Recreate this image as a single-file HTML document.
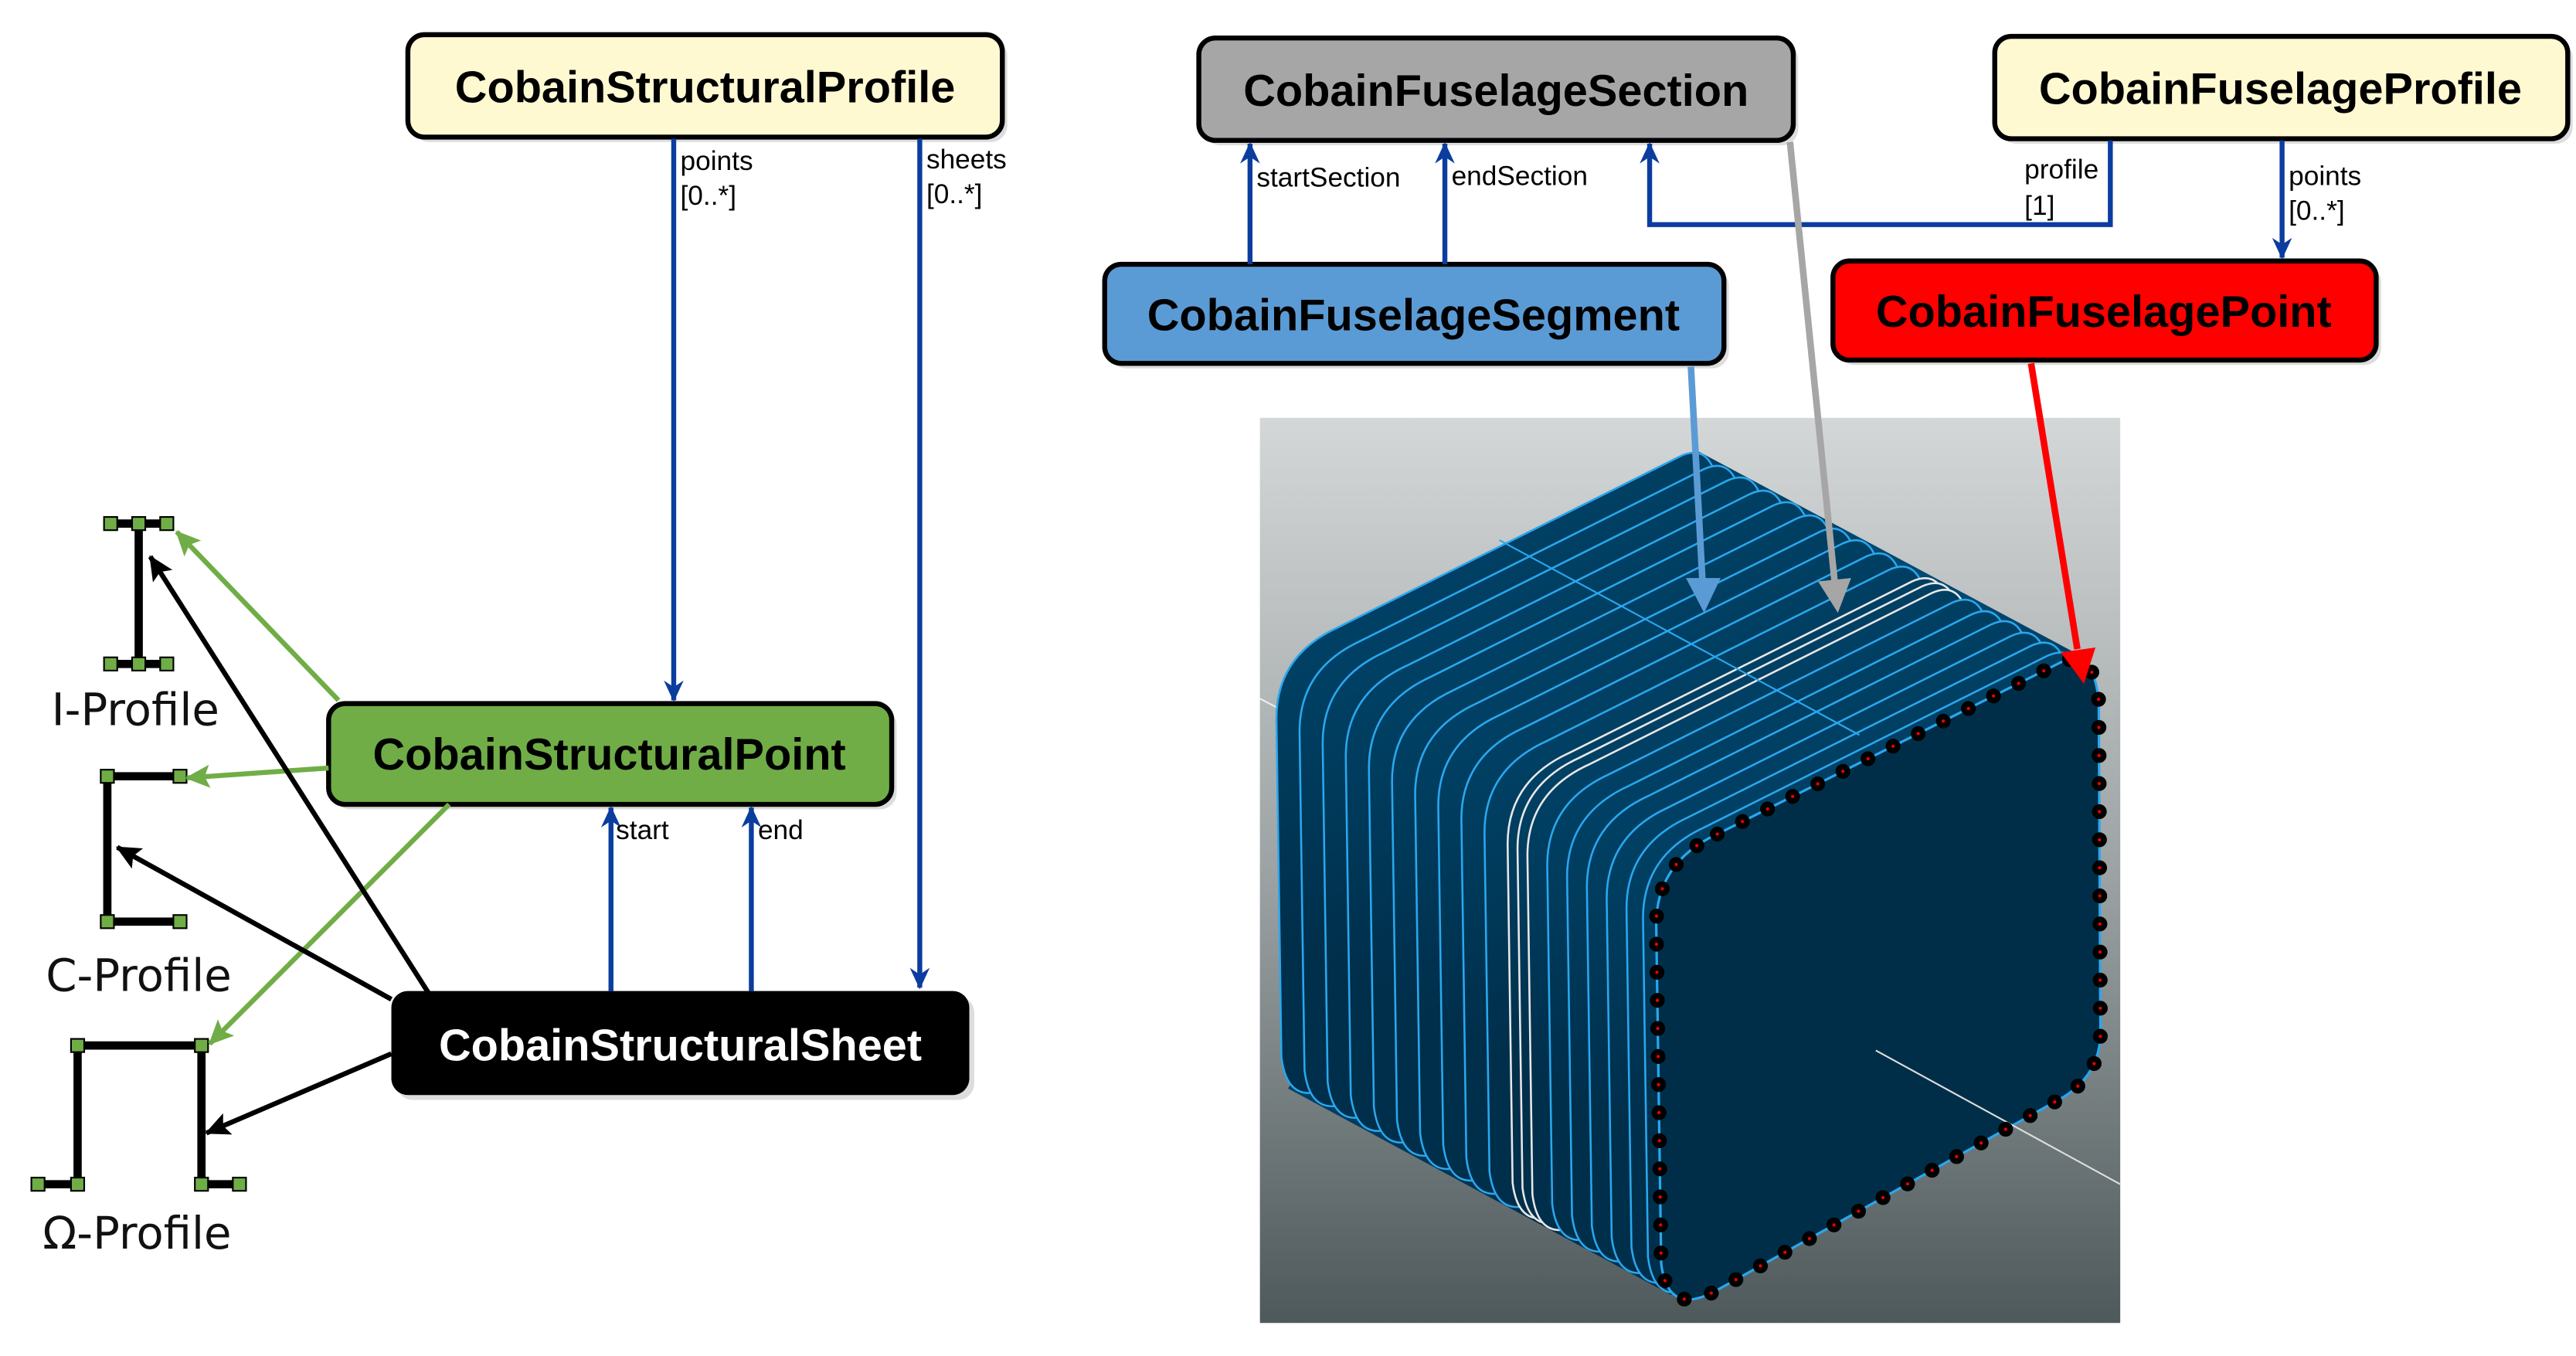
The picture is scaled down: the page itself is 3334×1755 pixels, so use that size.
<!DOCTYPE html>
<html><head><meta charset="utf-8"><style>
html,body{margin:0;padding:0;background:#fff;}
svg{display:block;}
</style></head><body>
<svg width="3334" height="1755" viewBox="0 0 1560 821" preserveAspectRatio="none" xmlns="http://www.w3.org/2000/svg">
<defs>
<marker id="mb" markerUnits="userSpaceOnUse" markerWidth="14" markerHeight="12" refX="12" refY="6" orient="auto"><path d="M0,0 L13,6 L0,12 L4,6 z" fill="#0b3d9e"/></marker>
<marker id="mg" markerUnits="userSpaceOnUse" markerWidth="16" markerHeight="14" refX="14" refY="7" orient="auto"><path d="M0,0 L15,7 L0,14 L3,7 z" fill="#70ad47"/></marker>
<marker id="mk" markerUnits="userSpaceOnUse" markerWidth="16" markerHeight="14" refX="14" refY="7" orient="auto"><path d="M0,0 L15,7 L0,14 L3,7 z" fill="#000"/></marker>
<linearGradient id="bg" x1="0" y1="0" x2="0" y2="1"><stop offset="0" stop-color="#d4d7d8"/><stop offset="0.5" stop-color="#9da3a4"/><stop offset="1" stop-color="#4e595b"/></linearGradient>
<linearGradient id="sf" gradientUnits="userSpaceOnUse" x1="780" y1="300" x2="1000" y2="700"><stop offset="0" stop-color="#003758"/><stop offset="0.5" stop-color="#014a72"/><stop offset="1" stop-color="#002f4b"/></linearGradient>
<path id="fo" d="M1040,505 L1248,401 Q1268,392 1271,425 L1272,625 Q1272,650 1250,664 L1040,781 Q1010,798 1006,765 L1003,560 Q1003,522 1040,505 Z"/>
</defs>
<g font-family="Liberation Sans, Arial, sans-serif">
<!-- Left boxes -->
<rect x="250" y="24" width="360" height="62" rx="10" fill="#ddd"/>
<rect x="247" y="21" width="360" height="62" rx="10" fill="#fff9d2" stroke="#000" stroke-width="3"/>
<text x="427" y="62" font-size="27" font-weight="bold" text-anchor="middle">CobainStructuralProfile</text>

<rect x="202" y="429" width="341" height="61" rx="10" fill="#ddd"/>
<rect x="199" y="426" width="341" height="61" rx="10" fill="#70ad47" stroke="#000" stroke-width="3"/>
<text x="369" y="466" font-size="27" font-weight="bold" text-anchor="middle">CobainStructuralPoint</text>

<rect x="240" y="603" width="350" height="63" rx="10" fill="#ddd"/>
<rect x="237" y="600" width="350" height="63" rx="10" fill="#000"/>
<text x="412" y="642" font-size="27" font-weight="bold" text-anchor="middle" fill="#fff">CobainStructuralSheet</text>

<g stroke="#0b3d9e" stroke-width="3" fill="none">
<line x1="408" y1="84" x2="408" y2="424" marker-end="url(#mb)"/>
<line x1="557" y1="84" x2="557" y2="598" marker-end="url(#mb)"/>
<line x1="370" y1="600" x2="370" y2="489" marker-end="url(#mb)"/>
<line x1="455" y1="600" x2="455" y2="489" marker-end="url(#mb)"/>
</g>
<g font-size="16.5">
<text x="412" y="103">points</text><text x="412" y="124">[0..*]</text>
<text x="561" y="102">sheets</text><text x="561" y="123">[0..*]</text>
<text x="373" y="508">start</text><text x="459" y="508">end</text>
</g>

<g stroke="#000" stroke-width="5" fill="none">
<path d="M67,317 H101 M84,317 V402 M67,402 H101"/>
<path d="M109,470 H65 V558 H109"/>
<path d="M23,717 H47 V633 H122 V717 H145"/>
</g>
<g fill="#70ad47" stroke="#000" stroke-width="1">
<rect x="63" y="313" width="8" height="8"/><rect x="80" y="313" width="8" height="8"/><rect x="97" y="313" width="8" height="8"/>
<rect x="63" y="398" width="8" height="8"/><rect x="80" y="398" width="8" height="8"/><rect x="97" y="398" width="8" height="8"/>
<rect x="61" y="466" width="8" height="8"/><rect x="105" y="466" width="8" height="8"/>
<rect x="61" y="554" width="8" height="8"/><rect x="105" y="554" width="8" height="8"/>
<rect x="43" y="629" width="8" height="8"/><rect x="118" y="629" width="8" height="8"/>
<rect x="19" y="713" width="8" height="8"/><rect x="43" y="713" width="8" height="8"/>
<rect x="118" y="713" width="8" height="8"/><rect x="141" y="713" width="8" height="8"/>
</g>
<g font-family="DejaVu Sans, sans-serif" font-size="27" text-anchor="middle" fill="#111">
<text x="82" y="439">I-Profile</text>
<text x="84" y="600">C-Profile</text>
<text x="83" y="756">Ω-Profile</text>
</g>
<g stroke="#70ad47" stroke-width="3" fill="none">
<line x1="205" y1="424" x2="107" y2="322" marker-end="url(#mg)"/>
<line x1="199" y1="465" x2="113" y2="471" marker-end="url(#mg)"/>
<line x1="272" y1="487" x2="127" y2="632" marker-end="url(#mg)"/>
</g>
<g stroke="#000" stroke-width="3" fill="none">
<line x1="260" y1="602" x2="91" y2="337" marker-end="url(#mk)"/>
<line x1="237" y1="605" x2="71" y2="513" marker-end="url(#mk)"/>
<line x1="237" y1="638" x2="125" y2="686" marker-end="url(#mk)"/>
</g>

<!-- Right boxes -->
<rect x="729" y="26" width="360" height="62" rx="10" fill="#ddd"/>
<rect x="726" y="23" width="360" height="62" rx="10" fill="#a6a6a6" stroke="#000" stroke-width="3"/>
<text x="906" y="64" font-size="27" font-weight="bold" text-anchor="middle">CobainFuselageSection</text>

<rect x="1211" y="25" width="347" height="62" rx="10" fill="#ddd"/>
<rect x="1208" y="22" width="347" height="62" rx="10" fill="#fff9d2" stroke="#000" stroke-width="3"/>
<text x="1381" y="63" font-size="27" font-weight="bold" text-anchor="middle">CobainFuselageProfile</text>

<rect x="672" y="163" width="375" height="60" rx="10" fill="#ddd"/>
<rect x="669" y="160" width="375" height="60" rx="10" fill="#5b9bd5" stroke="#000" stroke-width="3"/>
<text x="856" y="200" font-size="27" font-weight="bold" text-anchor="middle">CobainFuselageSegment</text>

<rect x="1113" y="161" width="329" height="60" rx="10" fill="#ddd"/>
<rect x="1110" y="158" width="329" height="60" rx="10" fill="#ff0000" stroke="#000" stroke-width="3"/>
<text x="1274" y="198" font-size="27" font-weight="bold" text-anchor="middle">CobainFuselagePoint</text>

<g stroke="#0b3d9e" stroke-width="3" fill="none">
<line x1="757" y1="160" x2="757" y2="87" marker-end="url(#mb)"/>
<line x1="875" y1="160" x2="875" y2="87" marker-end="url(#mb)"/>
<polyline points="1278,85 1278,136 999,136 999,87" marker-end="url(#mb)"/>
<line x1="1382" y1="85" x2="1382" y2="156" marker-end="url(#mb)"/>
</g>
<g font-size="16.5">
<text x="761" y="113">startSection</text>
<text x="879" y="112">endSection</text>
<text x="1226" y="108">profile</text><text x="1226" y="130">[1]</text>
<text x="1386" y="112">points</text><text x="1386" y="133">[0..*]</text>
</g>

<!-- 3D image -->
<rect x="763" y="253" width="521" height="548" fill="url(#bg)"/>
<line x1="763" y1="423" x2="790" y2="437" stroke="#eee" stroke-width="1"/>
<!-- hull -->
<use href="#fo" transform="translate(-230,-125)" fill="url(#sf)"/>
<polygon points="1028,273 1260,397 1012,784 780,659" fill="url(#sf)"/>
<g stroke="#2aa7ee" stroke-width="1.2" fill="url(#sf)">
<use href="#fo" transform="translate(-230,-125)"/>
<use href="#fo" transform="translate(-216,-117)"/>
<use href="#fo" transform="translate(-202,-110)"/>
<use href="#fo" transform="translate(-188,-102)"/>
<use href="#fo" transform="translate(-174,-95)"/>
<use href="#fo" transform="translate(-160,-87)"/>
<use href="#fo" transform="translate(-146,-79)"/>
<use href="#fo" transform="translate(-132,-72)"/>
<use href="#fo" transform="translate(-118,-64)"/>
<use href="#fo" transform="translate(-104,-56)"/>
<use href="#fo" transform="translate(-90,-49)" stroke="#e8e8e8"/>
<use href="#fo" transform="translate(-84,-46)" stroke="#e8e8e8"/>
<use href="#fo" transform="translate(-78,-42)" stroke="#e8e8e8"/>
<use href="#fo" transform="translate(-66,-36)"/>
<use href="#fo" transform="translate(-54,-29)"/>
<use href="#fo" transform="translate(-42,-23)"/>
<use href="#fo" transform="translate(-30,-16)"/>
<use href="#fo" transform="translate(-18,-10)"/>
<use href="#fo" transform="translate(-8,-4)"/>
</g>
<line x1="908" y1="327" x2="1126" y2="445" stroke="#2aa7ee" stroke-width="1"/>
<use href="#fo" fill="#002e48" stroke="#2aa7ee" stroke-width="1.5"/>
<line x1="1136" y1="636" x2="1284" y2="717" stroke="#ddd" stroke-width="1"/>
<use href="#fo" fill="none" stroke="#000" stroke-width="9" stroke-linecap="round" stroke-dasharray="0 17"/>
<use href="#fo" fill="none" stroke="#e00" stroke-width="2" stroke-linecap="round" stroke-dasharray="0 17"/>

<line x1="1024" y1="222" x2="1031" y2="352" stroke="#5b9bd5" stroke-width="4"/>
<path d="M1021,350 L1042,350 L1032,371 z" fill="#5b9bd5"/>
<line x1="1084" y1="86" x2="1111" y2="352" stroke="#a6a6a6" stroke-width="4"/>
<path d="M1101,352 L1121,350 L1113,371 z" fill="#a6a6a6"/>
<line x1="1230" y1="220" x2="1258" y2="393" stroke="#ff0000" stroke-width="4"/>
<path d="M1248,395 L1269,392 L1262,414 z" fill="#ff0000"/>
</g>
</svg>
</body></html>
